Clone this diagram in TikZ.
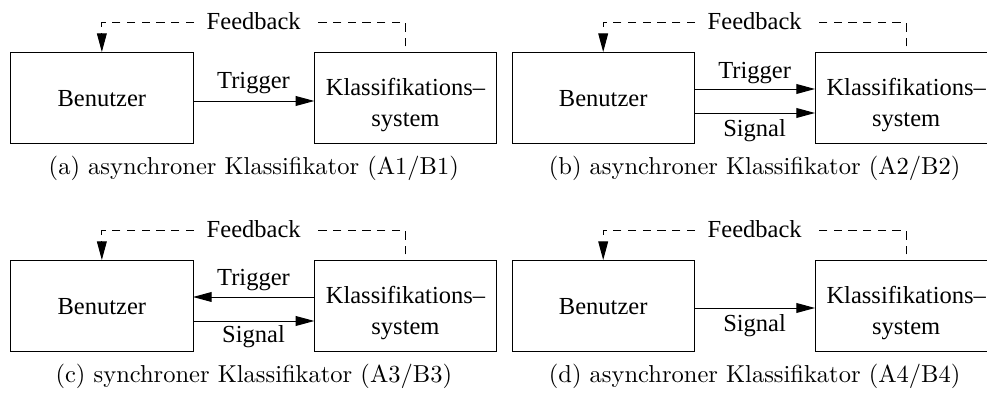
\documentclass[tikz,border=0pt]{standalone}
\usepackage{fontspec}
\newfontfamily\tms[Ligatures=TeX]{Liberation Serif}
\usetikzlibrary{arrows.meta}
\tikzset{
  box/.style={draw, minimum width=74.4pt, minimum height=37.5pt, inner sep=0pt, outer sep=0pt},
  txt/.style={font=\tms, anchor=base, inner sep=0pt},
  captxt/.style={font=\normalfont, anchor=base, inner sep=0pt},
  fbtxt/.style={font=\tms, anchor=base, inner xsep=5pt, inner ysep=0pt},
  arr/.style={-{Triangle[length=7.6pt,width=4pt]}},
  fb/.style={dash pattern=on 3.4pt off 2.6pt},
}
\begin{document}
\begin{tikzpicture}[x=0.408pt, y=-0.408pt]
\useasboundingbox (0,0) rectangle (987,397);
\clip (0,0) rectangle (987,397);

% ---------- panel (a) ----------
\node[box] (ua) at (101.85,98) {};
\node[box] (ka) at (405.5,98) {};
\node[txt] (uat) at (101.85,107) {Benutzer};
\node[txt] (kat1) at (405.5,95.5) {Klassifikations–};
\node[txt] (kat2) at (405.5,127) {system};
\coordinate (fala) at (101.85,22.5);
\coordinate (fara) at (405.5,22.5);
\coordinate (fbea) at (405.5,46.5);
\node[fbtxt] (fba) at (253.7,30) {Feedback};
\draw[fb] (fbea) -- (fara) -- (fba.east |- fara);
\draw[fb,arr] (fba.west |- fala) -- (fala) -- (ua.north);
\draw[arr] (ua.east |- 0,101) coordinate (ta0) -- (ka.west |- ta0);
\node[txt] (tla) at (253.5,89) {Trigger};
\node[captxt] (capa) at (253.8,175) {(a) asynchroner Klassifikator (A1/B1)};

% ---------- panel (b) ----------
\node[box] (ub) at (603.2,98) {};
\node[box] (kb) at (906.2,98) {};
\node[txt] (ubt) at (603.2,107) {Benutzer};
\node[txt] (kbt1) at (906.2,95.5) {Klassifikations–};
\node[txt] (kbt2) at (906.2,127) {system};
\coordinate (falb) at (603.2,22.5);
\coordinate (farb) at (906.2,22.5);
\coordinate (fbeb) at (906.2,46.5);
\node[fbtxt] (fbb) at (754.7,30) {Feedback};
\draw[fb] (fbeb) -- (farb) -- (fbb.east |- farb);
\draw[fb,arr] (fbb.west |- falb) -- (falb) -- (ub.north);
\draw[arr] (ub.east |- 0,89) coordinate (tb0) -- (kb.west |- tb0);
\draw[arr] (ub.east |- 0,113) coordinate (sb0) -- (kb.west |- sb0);
\node[txt] (tlb) at (754.6,79) {Trigger};
\node[txt] (slb) at (754.6,137) {Signal};
\node[captxt] (capb) at (754.6,175) {(b) asynchroner Klassifikator (A2/B2)};

% ---------- panel (c) ----------
\node[box] (uc) at (101.85,306) {};
\node[box] (kc) at (405.5,306) {};
\node[txt] (uct) at (101.85,315) {Benutzer};
\node[txt] (kct1) at (405.5,303.5) {Klassifikations–};
\node[txt] (kct2) at (405.5,335) {system};
\coordinate (falc) at (101.85,230.5);
\coordinate (farc) at (405.5,230.5);
\coordinate (fbec) at (405.5,254.5);
\node[fbtxt] (fbc) at (253.7,238) {Feedback};
\draw[fb] (fbec) -- (farc) -- (fbc.east |- farc);
\draw[fb,arr] (fbc.west |- falc) -- (falc) -- (uc.north);
\draw[arr] (kc.west |- 0,297) coordinate (tc0) -- (uc.east |- tc0);
\draw[arr] (uc.east |- 0,321) coordinate (sc0) -- (kc.west |- sc0);
\node[txt] (tlc) at (253.5,286) {Trigger};
\node[txt] (slc) at (253.5,343) {Signal};
\node[captxt] (capc) at (253.8,383) {(c) synchroner Klassifikator (A3/B3)};

% ---------- panel (d) ----------
\node[box] (ud) at (603.2,306) {};
\node[box] (kd) at (906.2,306) {};
\node[txt] (udt) at (603.2,315) {Benutzer};
\node[txt] (kdt1) at (906.2,303.5) {Klassifikations–};
\node[txt] (kdt2) at (906.2,335) {system};
\coordinate (fald) at (603.2,230.5);
\coordinate (fard) at (906.2,230.5);
\coordinate (fbed) at (906.2,254.5);
\node[fbtxt] (fbd) at (754.7,238) {Feedback};
\draw[fb] (fbed) -- (fard) -- (fbd.east |- fard);
\draw[fb,arr] (fbd.west |- fald) -- (fald) -- (ud.north);
\draw[arr] (ud.east |- 0,308) coordinate (sd0) -- (kd.west |- sd0);
\node[txt] (sld) at (754.6,332) {Signal};
\node[captxt] (capd) at (754.6,383) {(d) asynchroner Klassifikator (A4/B4)};
\end{tikzpicture}
\end{document}
